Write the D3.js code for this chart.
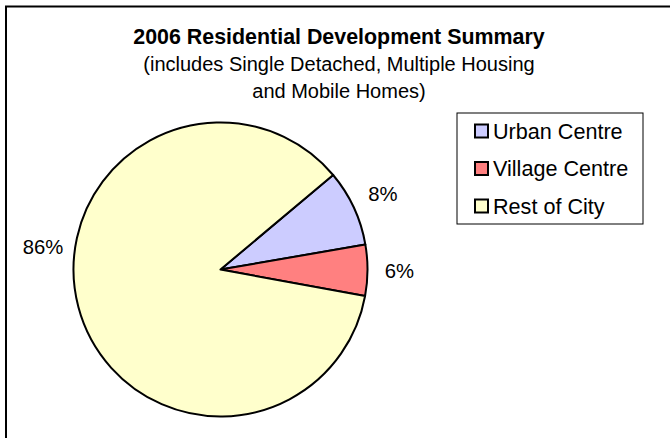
<!DOCTYPE html>
<html>
<head>
<meta charset="utf-8">
<script src="https://cdn.jsdelivr.net/npm/d3@7"></script>
<style>
    body { margin: 0; background: #fff; }
    svg text { font-family: "Liberation Sans", Arial, sans-serif; fill: #000; }
</style>
</head>
<body>
<script>
// chart values
var categories = ["Urban Centre", "Village Centre", "Rest of City"];
var shares = [8.4, 5.6, 86.0];
var labels = ["8%", "6%", "86%"];
var colors = ["#ccccff", "#ff8080", "#ffffcc"];
var titleLines = ["2006 Residential Development Summary",
    "(includes Single Detached, Multiple Housing",
    "and Mobile Homes)"];

var width = 670, height = 438;
var cx = 220.5, cy = 269.5, radius = 147;
var startDeg = 50;

var data = categories.map(function (c, i) {
    return {name: c, value: shares[i], label: labels[i], color: colors[i]};
});

var svg = d3.select("body").append("svg")
    .attr("width", width)
    .attr("height", height);

svg.append("rect")
    .attr("x", 0).attr("y", 0)
    .attr("width", width).attr("height", height)
    .attr("fill", "#fff");

// outer chart border (right and bottom run off the picture)
svg.append("rect")
    .attr("x", 6).attr("y", 6.5)
    .attr("width", 700).attr("height", 500)
    .attr("fill", "none")
    .attr("stroke", "#000")
    .attr("stroke-width", 2);

var title = svg.append("g").attr("class", "title");
titleLines.forEach(function (t, i) {
    title.append("text")
        .attr("x", 339)
        .attr("y", 44 + i * 27)
        .attr("text-anchor", "middle")
        .style("font-size", i === 0 ? "21.4px" : "20px")
        .style("font-weight", i === 0 ? "bold" : "normal")
        .text(t);
});

var toRad = Math.PI / 180;
var pie = d3.pie()
    .sort(null)
    .value(function (d) { return d.value; })
    .startAngle(startDeg * toRad)
    .endAngle((startDeg + 360) * toRad);

var arc = d3.arc().innerRadius(0).outerRadius(radius);
var arcs = pie(data);

var pieGroup = svg.append("g")
    .attr("transform", "translate(" + cx + "," + cy + ")");

pieGroup.selectAll("path.slice")
    .data(arcs)
    .enter().append("path")
    .attr("class", "slice")
    .attr("d", arc)
    .attr("fill", function (d) { return d.data.color; })
    .attr("stroke", "#000")
    .attr("stroke-width", 2)
    .attr("stroke-linejoin", "round");

// labels sit outside the pie; the big slice's label is pulled up to the left like in Excel
var labelRadius = 179;
function labelAngle(d) {
    return d.data.value > 50 ? 277.3 * toRad : (d.startAngle + d.endAngle) / 2;
}
pieGroup.selectAll("text.pct")
    .data(arcs)
    .enter().append("text")
    .attr("class", "pct")
    .attr("x", function (d) { return labelRadius * Math.sin(labelAngle(d)); })
    .attr("y", function (d) { return -labelRadius * Math.cos(labelAngle(d)); })
    .attr("dy", "0.35em")
    .attr("text-anchor", "middle")
    .style("font-size", "20.3px")
    .text(function (d) { return d.data.label; });

// legend
var legend = svg.append("g").attr("transform", "translate(457,113)");
legend.append("rect")
    .attr("x", 0).attr("y", 0)
    .attr("width", 186).attr("height", 111)
    .attr("fill", "#fff")
    .attr("stroke", "#000")
    .attr("stroke-width", 1);

var rows = legend.selectAll("g.row")
    .data(data)
    .enter().append("g")
    .attr("class", "row")
    .attr("transform", function (d, i) { return "translate(0," + (18 + i * 37.5) + ")"; });

rows.append("rect")
    .attr("x", 18).attr("y", -6.5)
    .attr("width", 13).attr("height", 13)
    .attr("fill", function (d) { return d.color; })
    .attr("stroke", "#000")
    .attr("stroke-width", 2);

rows.append("text")
    .attr("x", 36)
    .attr("y", 0)
    .attr("dy", "0.35em")
    .style("font-size", "21.6px")
    .text(function (d) { return d.name; });
</script>
</body>
</html>
